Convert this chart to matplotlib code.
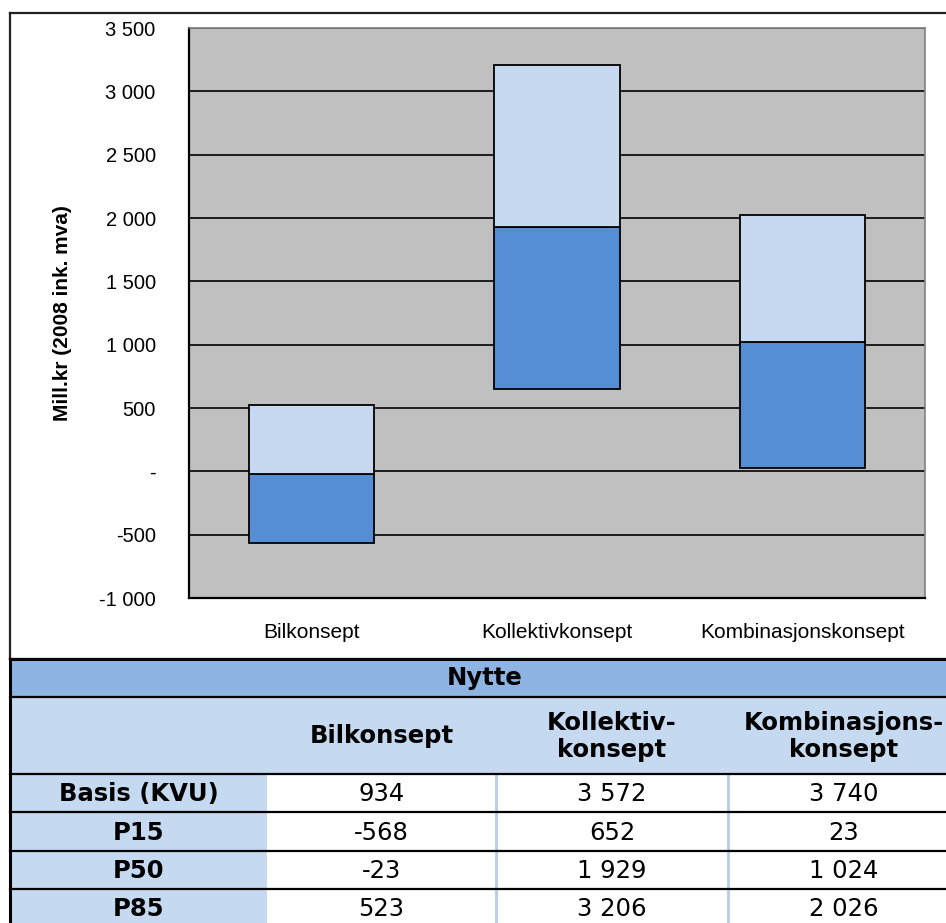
import numpy as np
import matplotlib.pyplot as plt
from matplotlib import font_manager as fm
from matplotlib.patches import Rectangle

# ---- data ----
categories = ["Bilkonsept", "Kollektivkonsept", "Kombinasjonskonsept"]
col_headers = ["Bilkonsept", "Kollektiv-\nkonsept", "Kombinasjons-\nkonsept"]
row_labels = ["Basis (KVU)", "P15", "P50", "P85"]
basis = [934, 3572, 3740]
p15 = [-568, 652, 23]
p50 = [-23, 1929, 1024]
p85 = [523, 3206, 2026]
y_ticks = [-1000, -500, 0, 500, 1000, 1500, 2000, 2500, 3000, 3500]
y_tick_labels = ["-1 000", "-500", "-", "500", "1 000", "1 500",
                 "2 000", "2 500", "3 000", "3 500"]
table_title = "Nytte"
y_label = "Mill.kr (2008 ink. mva)"

# ---- colours ----
DARK = "#558ED5"
LIGHT = "#C6D9F1"
PLOT_BG = "#C0C0C0"
HEAD = "#8DB4E2"
SUBHEAD = "#C5D9F1"


def font_file(name, bold):
    # pick the plain (non condensed / narrow) file of a family
    for f in fm.fontManager.ttflist:
        w = f.weight if isinstance(f.weight, int) else (700 if f.weight == "bold" else 400)
        low = f.fname.lower()
        if (f.name == name and f.style == "normal" and (w >= 600) == bold
                and "condensed" not in low and "narrow" not in low
                and "oblique" not in low and "italic" not in low):
            return f.fname
    return None


def fp(name, bold, size):
    path = font_file(name, bold)
    if path:
        return fm.FontProperties(fname=path, size=size)
    return fm.FontProperties(family=name, weight="bold" if bold else "normal", size=size)


W, H = 946, 923
fig = plt.figure(figsize=(W / 100, H / 100), dpi=100)

# overlay in pixel coords for frame + table
ov = fig.add_axes([0, 0, 1, 1])
ov.set_xlim(0, W)
ov.set_ylim(H, 0)
ov.axis("off")

# chart border
ov.plot([10, W], [13, 13], color="#222222", lw=1.6)
ov.plot([10, 10], [13, 659], color="#222222", lw=1.6)

# ---- chart ----
ax = fig.add_axes([189 / W, 1 - 598 / H, (925 - 189) / W, 570 / H])
ax.set_facecolor(PLOT_BG)
x = np.arange(len(categories))
lo = np.array(p15)
mid = np.array(p50)
hi = np.array(p85)
ax.bar(x, mid - lo, bottom=lo, width=0.51, color=DARK, edgecolor="black", lw=1.3, zorder=3)
ax.bar(x, hi - mid, bottom=mid, width=0.51, color=LIGHT, edgecolor="black", lw=1.3, zorder=3)

ax.set_xlim(-0.5, len(categories) - 0.5)
ax.set_ylim(-1000, 3500)
ax.set_yticks(y_ticks)
ax.set_yticklabels(y_tick_labels, fontproperties=fp("Liberation Sans", False, 14.5))
ax.set_xticks(x)
ax.set_xticklabels(categories, fontproperties=fp("Liberation Sans", False, 15))
ax.tick_params(axis="y", length=0, pad=24)
ax.tick_params(axis="x", length=0, pad=18)
ax.set_axisbelow(True)
ax.yaxis.grid(True, color="black", lw=1.2)
for s in ["top", "right"]:
    ax.spines[s].set_color("#808080")
    ax.spines[s].set_linewidth(1.2)
for s in ["left", "bottom"]:
    ax.spines[s].set_color("black")
    ax.spines[s].set_linewidth(1.6)

fig.text(62 / W, 1 - 313 / H, y_label, rotation=90, ha="center", va="center",
         fontproperties=fp("Liberation Sans", True, 15))

# ---- table ----
cols_x = [10, 267, 496, 728, 960]
rows_y = [659, 697, 774, 812.3, 850.7, 889, 927.3]
tbold = fp("DejaVu Sans", True, 17.5)
tnorm = fp("DejaVu Sans", False, 17.5)

ov.add_patch(Rectangle((cols_x[0], rows_y[0]), cols_x[-1] - cols_x[0], rows_y[1] - rows_y[0],
                       color=HEAD, lw=0))
ov.add_patch(Rectangle((cols_x[0], rows_y[1]), cols_x[-1] - cols_x[0], rows_y[2] - rows_y[1],
                       color=SUBHEAD, lw=0))
for r in range(len(row_labels)):
    y0 = rows_y[r + 2]
    ov.add_patch(Rectangle((cols_x[0], y0), cols_x[1] - cols_x[0], rows_y[r + 3] - y0,
                           color=SUBHEAD, lw=0))

# separators in data rows
for cx in cols_x[2:4]:
    ov.plot([cx, cx], [rows_y[2], H], color="#B8CCE4", lw=2)

for ry in rows_y[:-1]:
    ov.plot([cols_x[0], W], [ry, ry], color="black", lw=1.6)
ov.plot([cols_x[0], W], [rows_y[0], rows_y[0]], color="black", lw=2.2)
ov.plot([10, 10], [rows_y[0], H], color="black", lw=2.2)

ov.text((cols_x[0] + cols_x[-1]) / 2, (rows_y[0] + rows_y[1]) / 2, table_title,
        ha="center", va="center", fontproperties=tbold)
for j, lab in enumerate(col_headers):
    ov.text((cols_x[j + 1] + cols_x[j + 2]) / 2, (rows_y[1] + rows_y[2]) / 2 + 1, lab,
            ha="center", va="center", fontproperties=tbold, linespacing=1.2)


def fmt(v):
    return f"{v:,}".replace(",", " ")


table_rows = [basis, p15, p50, p85]
for r, lab in enumerate(row_labels):
    cy = (rows_y[r + 2] + rows_y[r + 3]) / 2 + 1
    ov.text((cols_x[0] + cols_x[1]) / 2, cy, lab, ha="center", va="center",
            fontproperties=tbold)
    for j, v in enumerate(table_rows[r]):
        ov.text((cols_x[j + 1] + cols_x[j + 2]) / 2, cy, fmt(v), ha="center", va="center",
                fontproperties=tnorm)

fig.savefig("out.png", dpi=100, facecolor="white")
